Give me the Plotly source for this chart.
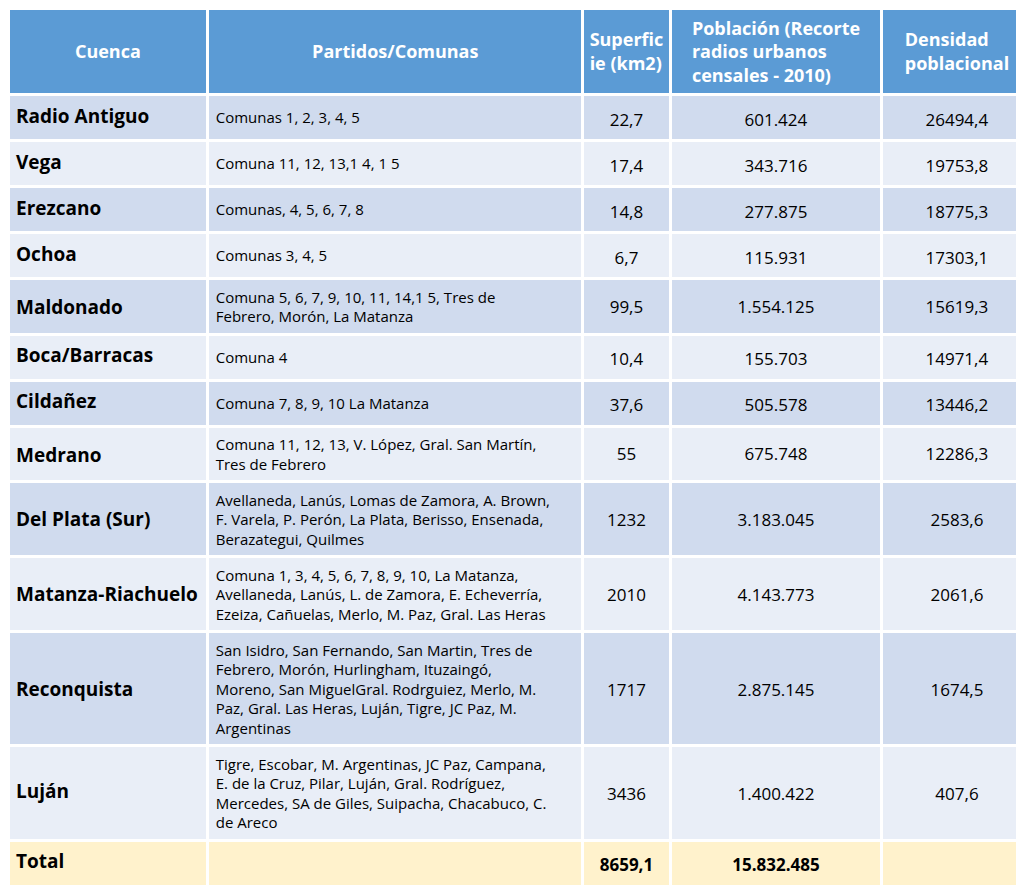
import plotly.graph_objects as go

# ---- data ----
headers = [["Cuenca"], ["Partidos/Comunas"], ["Superfic", "ie (km2)"],
           ["Población (Recorte", "radios urbanos", "censales - 2010)"],
           ["Densidad", "poblacional"]]

cuencas = ["Radio Antiguo", "Vega", "Erezcano", "Ochoa", "Maldonado",
           "Boca/Barracas", "Cildañez", "Medrano", "Del Plata (Sur)",
           "Matanza-Riachuelo", "Reconquista", "Luján", "Total"]

partidos = [
    ["Comunas 1, 2, 3, 4, 5"],
    ["Comuna 11, 12, 13,1 4, 1 5"],
    ["Comunas, 4, 5, 6, 7, 8"],
    ["Comunas 3, 4, 5"],
    ["Comuna 5, 6, 7, 9, 10, 11, 14,1 5, Tres de", "Febrero, Morón, La Matanza"],
    ["Comuna 4"],
    ["Comuna 7, 8, 9, 10 La Matanza"],
    ["Comuna 11, 12, 13, V. López, Gral. San Martín,", "Tres de Febrero"],
    ["Avellaneda, Lanús, Lomas de Zamora, A. Brown,",
     "F. Varela, P. Perón, La Plata, Berisso, Ensenada,",
     "Berazategui, Quilmes"],
    ["Comuna 1, 3, 4, 5, 6, 7, 8, 9, 10, La Matanza,",
     "Avellaneda, Lanús, L. de Zamora, E. Echeverría,",
     "Ezeiza, Cañuelas, Merlo, M. Paz, Gral. Las Heras"],
    ["San Isidro, San Fernando, San Martin, Tres de",
     "Febrero, Morón, Hurlingham, Ituzaingó,",
     "Moreno, San MiguelGral. Rodrguiez, Merlo, M.",
     "Paz, Gral. Las Heras, Luján, Tigre, JC Paz, M.",
     "Argentinas"],
    ["Tigre, Escobar, M. Argentinas, JC Paz, Campana,",
     "E. de la Cruz, Pilar, Luján, Gral. Rodríguez,",
     "Mercedes, SA de Giles, Suipacha, Chacabuco, C.",
     "de Areco"],
    [""],
]

superficie = [22.7, 17.4, 14.8, 6.7, 99.5, 10.4, 37.6, 55, 1232, 2010, 1717, 3436, 8659.1]
poblacion = [601424, 343716, 277875, 115931, 1554125, 155703, 505578, 675748,
             3183045, 4143773, 2875145, 1400422, 15832485]
densidad = [26494.4, 19753.8, 18775.3, 17303.1, 15619.3, 14971.4, 13446.2,
            12286.3, 2583.6, 2061.6, 1674.5, 407.6, None]

# ---- formatting helpers ----
def fmt_dec(v):
    if v is None:
        return ""
    if float(v).is_integer():
        return str(int(v))
    return f"{v:.1f}".replace(".", ",")

def fmt_thousands(v):
    return f"{v:,}".replace(",", ".")

# ---- styles ----
HEADER_BG = "#5B9BD5"
ODD_BG = "#D0DBEE"
EVEN_BG = "#E9EEF7"
TOTAL_BG = "#FFF2CC"
FONT = "Open Sans"
SIZES = [19, 15, 17, 17, 17]
HEAD_SIZE = 18
HEAD_H = 86
LS = 1.3
ASC = 1.069
BOXR = 1.362
PAD = 8
MIN_H = 46


def block_h(k, f):
    return (k - 1) * LS * f + BOXR * f


def row_height(L):
    return max(MIN_H, block_h(L, SIZES[1]) + 2 * PAD)


def centered(lines, f, R, bold=False):
    """Prefix a small spacer line so the text block sits mid-cell."""
    k = len(lines)
    body = "<br>".join(f"<b>{s}</b>" if bold else f"<span>{s}</span>" for s in lines)
    d = (R - block_h(k, f)) / 2 - PAD
    base = (LS - ASC) * f
    min_shift = base + ASC * 1.0
    if d <= 0 or abs(d) <= abs(d - min_shift):
        return body
    m = int(max(0, (d - min_shift)) // (LS * f))
    s = (d - base - m * LS * f) / ASC
    s = max(1.0, min(s, f))
    spacer = f"<span style='font-size:{s:.1f}px'>\u00a0</span><br>" + "<br>" * m
    return spacer + body


n = len(cuencas)
row_lines = [len(p) for p in partidos]

col1, col2, col3, col4, col5 = [], [], [], [], []
for i in range(n):
    R = row_height(row_lines[i])
    is_total = cuencas[i] == "Total"
    col1.append(centered([cuencas[i]], SIZES[0], R, bold=True))
    col2.append(centered(partidos[i], SIZES[1], R))
    col3.append(centered([fmt_dec(superficie[i])], SIZES[2], R, bold=is_total))
    col4.append(centered([fmt_thousands(poblacion[i])], SIZES[3], R, bold=is_total))
    col5.append(centered([fmt_dec(densidad[i])], SIZES[4], R, bold=is_total))

head_vals = [centered(h, HEAD_SIZE, HEAD_H, bold=True) for h in headers]

fills = []
for i in range(n):
    if cuencas[i] == "Total":
        fills.append(TOTAL_BG)
    elif i % 2 == 0:
        fills.append(ODD_BG)
    else:
        fills.append(EVEN_BG)

fig = go.Figure(go.Table(
    columnwidth=[197, 370, 86, 209, 148],
    header=dict(
        values=head_vals,
        fill_color=HEADER_BG,
        line=dict(color="white", width=3),
        font=dict(family=FONT, size=HEAD_SIZE, color="white"),
        align="center",
        height=HEAD_H,
    ),
    cells=dict(
        values=[col1, col2, col3, col4, col5],
        fill_color=[fills] * 5,
        line=dict(color="white", width=3),
        font=dict(family=FONT, size=SIZES, color="black"),
        align=["left", "left", "center", "center", "center"],
        height=MIN_H,
    ),
))

fig.update_layout(
    width=1024, height=887,
    margin=dict(l=0, r=0, t=0, b=0),
    paper_bgcolor="white",
)

fig.write_html("out.html")
